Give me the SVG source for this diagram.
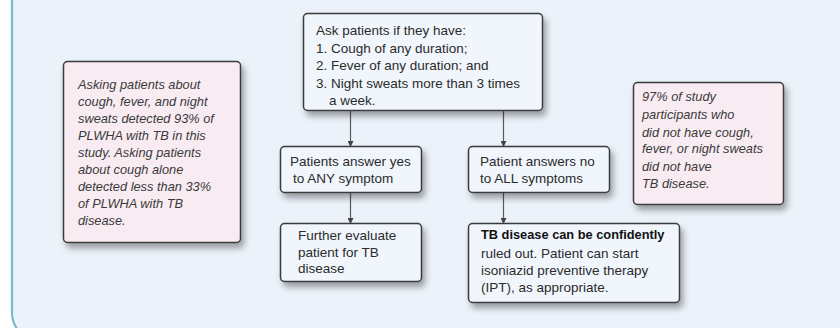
<svg xmlns="http://www.w3.org/2000/svg" width="840" height="328" viewBox="0 0 840 328">
<defs>
<style>
.box{fill:#f1f6fc;stroke:#3a3a3a;stroke-width:1.5}
.note{fill:#f8ecf2;stroke:#3a3a3a;stroke-width:1.5}
.t{font-family:"Liberation Sans",Arial,sans-serif;font-size:13.5px;fill:#2b2b2b}
.b{font-weight:bold;fill:#111;font-size:12.8px}
.n{font-family:"Liberation Sans",Arial,sans-serif;font-size:12.8px;font-style:italic;fill:#3a3a3a}
.c{stroke:#5a5a5a;stroke-width:1.2;fill:none}
</style>
<filter id="sh" x="-10%" y="-10%" width="130%" height="135%">
<feDropShadow dx="3" dy="5" stdDeviation="3" flood-color="#000" flood-opacity="0.35"/>
</filter>
<marker id="ah" viewBox="0 0 6 6" refX="5" refY="3" markerWidth="5" markerHeight="5" orient="auto">
<path d="M0,0 L6,3 L0,6 z" fill="#444"/>
</marker>
</defs>
<rect x="0" y="0" width="840" height="328" fill="#ffffff"/>
<path d="M12,0 V312 Q12,328 28,336 H840 V0 Z" fill="#ecf2fa"/>
<path d="M12,0 V312 Q12,326 22,334" fill="none" stroke="#7bbac7" stroke-width="2.2"/>

<g id="connectors">
<line class="c" x1="350.5" y1="111" x2="350.5" y2="146" marker-end="url(#ah)"/>
<line class="c" x1="503.5" y1="111" x2="503.5" y2="146" marker-end="url(#ah)"/>
<line class="c" x1="350.5" y1="193" x2="350.5" y2="223" marker-end="url(#ah)"/>
<line class="c" x1="503.5" y1="193" x2="503.5" y2="223" marker-end="url(#ah)"/>
</g>

<g id="note-left">
<rect class="note" x="63.5" y="61.5" width="177" height="181" rx="4" filter="url(#sh)"/>
<text class="n" x="78" y="89">Asking patients about</text>
<text class="n" x="78" y="106">cough, fever, and night</text>
<text class="n" x="78" y="123">sweats detected 93% of</text>
<text class="n" x="78" y="140">PLWHA with TB in this</text>
<text class="n" x="78" y="157">study. Asking patients</text>
<text class="n" x="78" y="174">about cough alone</text>
<text class="n" x="78" y="191">detected less than 33%</text>
<text class="n" x="78" y="208">of PLWHA with TB</text>
<text class="n" x="78" y="225">disease.</text>
</g>

<g id="ask">
<rect class="box" x="303.5" y="13.5" width="239" height="97" rx="4" filter="url(#sh)"/>
<text class="t" x="316" y="35">Ask patients if they have:</text>
<text class="t" x="316" y="53">1. Cough of any duration;</text>
<text class="t" x="316" y="70">2. Fever of any duration; and</text>
<text class="t" x="316" y="88">3. Night sweats more than 3 times</text>
<text class="t" x="329" y="105">a week.</text>
</g>

<g id="yes">
<rect class="box" x="280.5" y="146.5" width="141" height="46" rx="4" filter="url(#sh)"/>
<text class="t" x="290" y="166">Patients answer yes</text>
<text class="t" x="293" y="183">to ANY symptom</text>
</g>

<g id="no">
<rect class="box" x="468.5" y="146.5" width="141" height="46" rx="4" filter="url(#sh)"/>
<text class="t" x="480" y="166">Patient answers no</text>
<text class="t" x="480" y="183">to ALL symptoms</text>
</g>

<g id="evaluate">
<rect class="box" x="280.5" y="223.5" width="141" height="58" rx="4" filter="url(#sh)"/>
<text class="t" x="298" y="240">Further evaluate</text>
<text class="t" x="298" y="257">patient for TB</text>
<text class="t" x="298" y="273">disease</text>
</g>

<g id="ruledout">
<rect class="box" x="468.5" y="223.5" width="211" height="79" rx="4" filter="url(#sh)"/>
<text class="t b" x="481" y="239">TB disease can be confidently</text>
<text class="t" x="481" y="258">ruled out. Patient can start</text>
<text class="t" x="481" y="275">isoniazid preventive therapy</text>
<text class="t" x="481" y="292">(IPT), as appropriate.</text>
</g>

<g id="note-right">
<rect class="note" x="633.5" y="82.5" width="150" height="122" rx="4" filter="url(#sh)"/>
<text class="n" x="642" y="101">97% of study</text>
<text class="n" x="642" y="119">participants who</text>
<text class="n" x="642" y="137">did not have cough,</text>
<text class="n" x="642" y="153">fever, or night sweats</text>
<text class="n" x="642" y="171">did not have</text>
<text class="n" x="642" y="188">TB disease.</text>
</g>
</svg>
